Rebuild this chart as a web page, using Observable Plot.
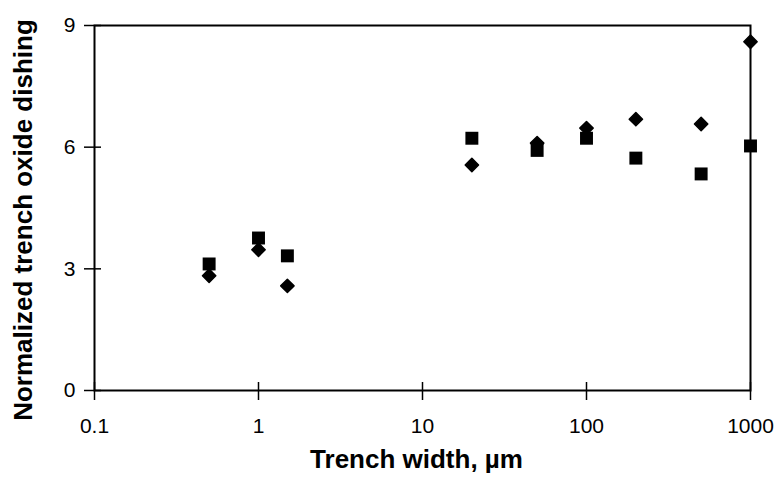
<!DOCTYPE html>
<html>
<head>
<meta charset="utf-8">
<script src="https://cdn.jsdelivr.net/npm/d3@7"></script>
<script src="https://cdn.jsdelivr.net/npm/@observablehq/plot@0.6"></script>
<style>
  html, body { margin: 0; padding: 0; background: #fff; }
  svg { font-family: "Liberation Sans", Arial, sans-serif; }
</style>
</head>
<body>
<div id="chart"></div>
<script>
const widths = [0.5, 1, 1.5, 20, 50, 100, 200, 500, 1000];
const seriesSquare = [3.12, 3.76, 3.32, 6.22, 5.92, 6.22, 5.73, 5.34, 6.03];
const seriesDiamond = [2.83, 3.47, 2.58, 5.56, 6.1, 6.47, 6.69, 6.57, 8.6];
const xTicks = [0.1, 1, 10, 100, 1000];
const xTickLabels = ["0.1", "1", "10", "100", "1000"];
const yTicks = [0, 3, 6, 9];
const xTitle = "Trench width, µm";
const yTitle = "Normalized trench oxide dishing";

const squares = widths.map((w, i) => ({w, v: seriesSquare[i]}));
const diamonds = widths.map((w, i) => ({w, v: seriesDiamond[i]}));

const chart = Plot.plot({
  width: 781,
  height: 485,
  marginLeft: 94,
  marginRight: 31,
  marginTop: 25,
  marginBottom: 95,
  style: {fontFamily: "Liberation Sans, Arial, sans-serif", color: "#000", background: "#fff"},
  x: {type: "log", domain: [0.1, 1000]},
  y: {domain: [0, 9]},
  marks: [
    Plot.axisX({ticks: xTicks, tickSize: 18, dy: -8, strokeWidth: 1.5, tickFormat: () => "", label: null}),
    Plot.axisX({ticks: xTicks, tickSize: 0, tickPadding: 28, fontSize: 21, tickFormat: (d) => xTickLabels[xTicks.indexOf(d)], label: null}),
    Plot.axisY({ticks: yTicks, tickSize: 17, dx: 7, strokeWidth: 1.5, tickFormat: () => "", label: null}),
    Plot.axisY({ticks: yTicks, tickSize: 0, tickPadding: 19, fontSize: 21, label: null}),
    Plot.frame({stroke: "#000", strokeWidth: 2}),
    Plot.dot(squares, {x: "w", y: "v", symbol: "square", r: 7.3, fill: "#000", stroke: "none"}),
    Plot.dot(diamonds, {x: "w", y: "v", symbol: "diamond2", r: 6, fill: "#000", stroke: "#000", strokeWidth: 1.5, strokeLinejoin: "round"}),
    Plot.text([xTitle], {frameAnchor: "bottom", dy: 77, dx: -6, fontSize: 26, fontWeight: "bold", fill: "#000"}),
    Plot.text([yTitle], {frameAnchor: "left", textAnchor: "middle", rotate: -90, dx: -71, dy: 12, fontSize: 26, fontWeight: "bold", fill: "#000"})
  ]
});
document.getElementById("chart").appendChild(chart);
</script>
</body>
</html>
